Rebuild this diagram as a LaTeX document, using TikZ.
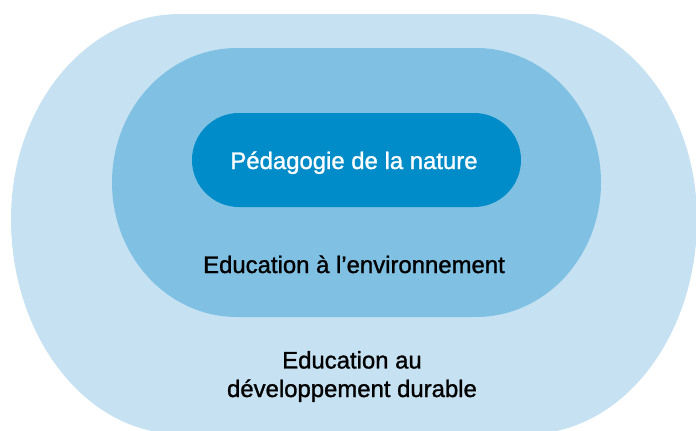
\documentclass[tikz,border=0pt]{standalone}
\usepackage{fontspec}
\setmainfont{Liberation Sans}
\newfontfamily\labelfont[FakeBold=1.2]{Liberation Sans}
\definecolor{eddblue}{HTML}{C5E1F2}
\definecolor{envblue}{HTML}{80C1E3}
\definecolor{natureblue}{HTML}{008BC9}
\begin{document}
\begin{tikzpicture}[x = 0.025cm, y = 0.025cm, align = center,
                    label/.style = {font = \labelfont\fontsize{17}{20.3}\selectfont, anchor = base, inner sep = 0pt}]
                    \useasboundingbox (0, 0) rectangle (696, 430);
                    \clip (0, 0) rectangle (696, 430);
                    
                    % outer: education au developpement durable
                    \fill[eddblue] (180, 416) -- (528, 416)
                        arc[start angle = 90, end angle = 0, x radius = 169, y radius = 205]
                        arc[start angle = 0, end angle = -90, x radius = 169, y radius = 215]
                        -- (180, -4)
                        arc[start angle = 270, end angle = 180, x radius = 169, y radius = 215]
                        arc[start angle = 180, end angle = 90, x radius = 169, y radius = 205]
                        -- cycle;
                    
                    % middle: education a l'environnement
                    \fill[envblue] (237, 382) -- (476, 382)
                        arc[start angle = 90, end angle = -90, x radius = 125, y radius = 134.5]
                        -- (237, 113)
                        arc[start angle = 270, end angle = 90, x radius = 125, y radius = 134.5]
                        -- cycle;
                    
                    % inner: pedagogie de la nature
                    \fill[natureblue, rounded corners = 1.175cm] (192, 223) rectangle (521, 317);
                    
                    \node[label, text = white] (nature) at (354, 261) {Pédagogie de la nature};
                    \node[label] (env) at (354, 157) {Education à l’environnement};
                    \node[label] (edd) at (352, 33) {Education au\\développement durable};
                \end{tikzpicture}
\end{document}
